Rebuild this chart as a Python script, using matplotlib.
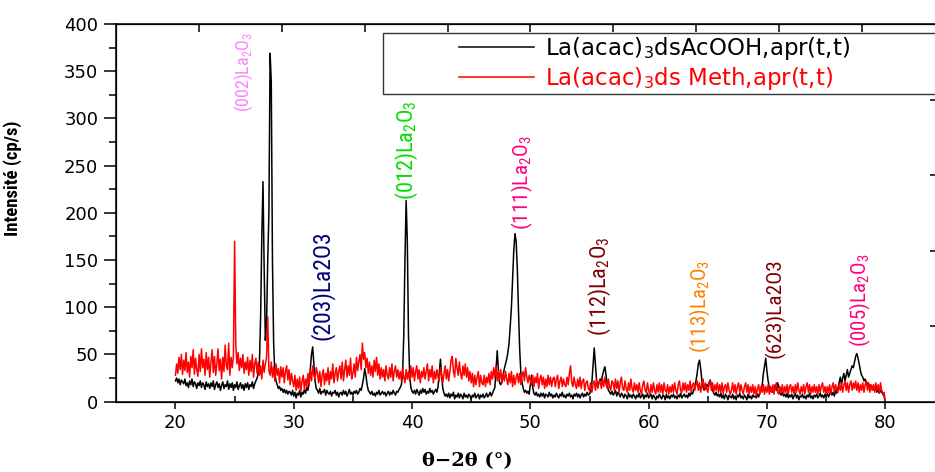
import os
import numpy as np
import matplotlib
matplotlib.use("Agg")
import matplotlib.pyplot as plt
from matplotlib import font_manager
from matplotlib.font_manager import FontProperties
from matplotlib.legend_handler import HandlerLine2D

# 2-theta scan grid (0.1 deg step, 20 -> 80)
two_theta = np.round(np.arange(20.0, 80.05, 0.1), 1)

# La(acac)3 in AcOOH, intensities (cp/s), one row per degree
acooh = [
    22, 25, 20, 24, 18, 23, 21, 19, 24, 17,
    20, 15, 22, 18, 24, 16, 21, 19, 14, 20,
    17, 22, 15, 20, 18, 13, 21, 16, 19, 14,
    20, 16, 22, 13, 18, 21, 15, 19, 12, 17,
    21, 14, 18, 16, 22, 13, 19, 15, 20, 12,
    18, 15, 21, 13, 17, 20, 14, 18, 12, 19,
    15, 20, 13, 18, 16, 21, 14, 19, 22, 25,
    30, 42, 90, 175, 233, 140, 65, 82, 150, 200,
    369, 339, 150, 62, 30, 22, 18, 14, 16, 12,
    14, 10, 13, 9, 12, 8, 11, 10, 7, 12,
    6, 10, 4, 9, 7, 12, 5, 10, 8, 13,
    9, 15, 12, 20, 35, 50, 58, 40, 22, 14,
    12, 9, 14, 8, 11, 10, 13, 7, 12, 9,
    8, 11, 6, 10, 9, 12, 7, 10, 5, 9,
    10, 7, 12, 8, 11, 6, 9, 13, 8, 10,
    7, 11, 9, 12, 8, 10, 14, 12, 18, 25,
    35, 28, 18, 12, 10, 8, 11, 7, 9, 6,
    10, 8, 12, 7, 9, 11, 8, 10, 6, 9,
    11, 7, 10, 8, 12, 9, 7, 11, 10, 13,
    15, 18, 30, 70, 150, 213, 170, 70, 28, 15,
    11, 9, 12, 8, 13, 10, 7, 12, 9, 14,
    10, 13, 8, 11, 9, 14, 10, 12, 8, 11,
    13, 10, 16, 30, 45, 28, 14, 9, 6, 8,
    5, 9, 4, 8, 6, 10, 3, 7, 5, 9,
    4, 8, 6, 3, 9, 5, 7, 4, 8, 6,
    3, 7, 5, 9, 4, 6, 8, 3, 7, 5,
    8, 4, 6, 9, 5, 7, 10, 6, 9, 12,
    15, 35, 54, 32, 20, 18, 22, 28, 35, 40,
    45, 52, 62, 80, 100, 130, 160, 178, 170, 140,
    95, 55, 30, 20, 14, 10, 12, 9, 11, 8,
    18, 28, 15, 9, 7, 10, 6, 8, 5, 9,
    6, 9, 4, 8, 7, 5, 10, 6, 8, 4,
    7, 5, 9, 6, 4, 8, 6, 10, 5, 7,
    4, 8, 6, 9, 5, 7, 3, 8, 6, 9,
    5, 8, 4, 7, 9, 5, 8, 6, 10, 7,
    8, 12, 20, 38, 57, 40, 22, 18, 20, 24,
    22, 28, 33, 37, 28, 18, 12, 10, 8, 11,
    7, 9, 12, 6, 10, 8, 5, 9, 7, 4,
    8, 6, 3, 9, 5, 7, 4, 8, 6, 3,
    7, 5, 9, 4, 6, 8, 3, 7, 5, 9,
    4, 6, 8, 3, 7, 5, 2, 6, 4, 8,
    5, 3, 7, 6, 2, 8, 4, 6, 3, 7,
    5, 8, 4, 6, 3, 7, 5, 9, 4, 6,
    8, 5, 7, 4, 9, 6, 10, 8, 12, 15,
    22, 30, 40, 44, 35, 22, 15, 12, 14, 18,
    16, 20, 23, 18, 12, 9, 7, 10, 6, 8,
    5, 9, 4, 7, 3, 8, 6, 2, 7, 5,
    4, 8, 3, 6, 2, 7, 5, 9, 4, 6,
    3, 7, 5, 2, 8, 4, 6, 3, 7, 5,
    6, 4, 8, 5, 10, 12, 18, 30, 38, 46,
    32, 22, 15, 11, 14, 10, 13, 18, 12, 20,
    16, 9, 7, 10, 6, 8, 5, 9, 4, 7,
    5, 8, 3, 6, 9, 4, 7, 2, 6, 5,
    8, 4, 6, 3, 7, 5, 9, 4, 6, 3,
    7, 5, 8, 4, 6, 9, 5, 7, 4, 8,
    6, 9, 5, 8, 11, 7, 10, 6, 12, 9,
    14, 20, 26, 18, 25, 30, 22, 28, 34, 26,
    30, 34, 38, 36, 42, 48, 51, 46, 40, 33,
    28, 26, 22, 24, 18, 20, 16, 18, 14, 15,
    14, 12, 15, 10, 13, 9, 12, 10, 8, 6,
    0,
]

# La(acac)3 in methanol, intensities (cp/s)
meth = [
    28, 40, 30, 47, 34, 50, 29, 44, 33, 52,
    31, 42, 26, 48, 36, 55, 29, 46, 34, 27,
    50, 32, 56, 36, 45, 28, 52, 34, 47, 26,
    42, 55, 31, 48, 28, 40, 56, 33, 45, 24,
    47, 32, 60, 38, 34, 62, 28, 47, 36, 48,
    170, 60, 40, 52, 33, 46, 36, 50, 30, 42,
    34, 47, 28, 44, 32, 50, 26, 40, 46, 30,
    42, 28, 38, 24, 44, 31, 40, 47, 90, 33,
    28, 42, 26, 37, 22, 40, 28, 35, 20, 37,
    26, 36, 20, 32, 38, 23, 34, 18, 30, 22,
    16, 28, 12, 24, 14, 26, 11, 22, 28, 13,
    24, 16, 30, 18, 34, 22, 38, 28, 24, 36,
    30, 20, 32, 16, 28, 34, 18, 30, 22, 36,
    18, 32, 24, 40, 20, 30, 36, 22, 32, 38,
    24, 42, 22, 34, 44, 26, 38, 28, 46, 24,
    30, 40, 26, 47, 33, 42, 50, 34, 62, 45,
    52, 36, 46, 30, 42, 28, 38, 26, 44, 32,
    47, 28, 40, 24, 36, 26, 34, 22, 38, 28,
    24, 36, 26, 40, 22, 32, 38, 26, 34, 24,
    32, 22, 36, 26, 20, 34, 24, 32, 22, 38,
    26, 36, 22, 32, 38, 24, 34, 20, 32, 26,
    36, 24, 32, 40, 22, 34, 26, 38, 20, 32,
    24, 34, 26, 22, 36, 28, 20, 30, 38, 24,
    34, 22, 32, 44, 48, 32, 26, 46, 36, 28,
    42, 30, 24, 38, 28, 40, 26, 36, 22, 32,
    20, 30, 16, 28, 18, 26, 32, 16, 28, 20,
    18, 28, 16, 26, 20, 30, 18, 32, 24, 36,
    26, 38, 22, 32, 24, 34, 20, 30, 22, 32,
    24, 18, 30, 20, 32, 16, 28, 18, 26, 30,
    20, 30, 18, 28, 32, 22, 36, 26, 20, 28,
    22, 18, 28, 16, 26, 20, 30, 14, 24, 28,
    18, 26, 14, 24, 16, 28, 18, 26, 16, 24,
    26, 16, 24, 28, 14, 22, 26, 16, 24, 18,
    16, 26, 18, 30, 38, 20, 16, 26, 18, 14,
    24, 16, 26, 14, 22, 24, 12, 20, 22, 14,
    12, 20, 10, 18, 22, 12, 24, 14, 20, 22,
    14, 24, 16, 26, 18, 14, 24, 16, 12, 22,
    20, 12, 24, 14, 22, 10, 20, 26, 14, 12,
    22, 14, 10, 20, 12, 24, 14, 10, 20, 12,
    18, 10, 20, 12, 8, 18, 22, 12, 10, 20,
    12, 8, 18, 10, 20, 12, 8, 18, 10, 20,
    10, 18, 8, 20, 12, 10, 18, 8, 16, 10,
    18, 10, 20, 12, 8, 18, 22, 12, 10, 20,
    12, 20, 10, 18, 12, 22, 10, 18, 20, 12,
    18, 22, 12, 20, 10, 18, 24, 12, 20, 14,
    10, 18, 22, 12, 20, 10, 18, 12, 20, 10,
    18, 10, 20, 8, 16, 18, 10, 20, 12, 8,
    12, 20, 10, 18, 8, 16, 20, 10, 18, 12,
    8, 16, 20, 10, 18, 8, 16, 10, 18, 8,
    16, 6, 14, 18, 8, 16, 10, 18, 8, 16,
    10, 18, 8, 16, 10, 18, 8, 16, 20, 10,
    8, 16, 10, 18, 8, 16, 10, 18, 8, 16,
    18, 10, 16, 8, 18, 10, 20, 12, 8, 16,
    10, 18, 8, 16, 20, 10, 18, 8, 16, 10,
    18, 10, 16, 8, 18, 10, 16, 20, 10, 16,
    8, 16, 10, 18, 8, 16, 20, 10, 18, 12,
    10, 18, 12, 20, 10, 18, 22, 12, 20, 10,
    18, 22, 12, 20, 14, 22, 12, 20, 10, 18,
    12, 20, 10, 18, 22, 12, 20, 10, 18, 12,
    18, 10, 20, 12, 18, 10, 20, 12, 8, 10,
    0,
]

# peak assignments: label, 2theta, height of label base, colour, length (px)
peak_labels = [r"(002)La$_2$O$_3$", r"(203)La2O3", r"(012)La$_2$O$_3$",
               r"(111)La$_2$O$_3$", r"(112)La$_2$O$_3$", r"(113)La$_2$O$_3$",
               r"(623)La2O3", r"(005)La$_2$O$_3$"]
peak_x = [25.8, 32.4, 39.6, 49.3, 55.9, 64.4, 70.7, 77.9]
peak_y = [307, 65, 214, 182, 70, 52, 46, 58]
peak_colors = ["#FF80FF", "#000080", "#00E000", "#FF0080",
               "#800000", "#FF8000", "#800000", "#FF0080"]
peak_len = [80, 110, 100, 95, 100, 93, 100, 94]

series_labels = [r"La(acac)$_3$dsAcOOH,apr(t,t)", r"La(acac)$_3$ds Meth,apr(t,t)"]


def condensed_font(bold):
    # look for an installed narrow/condensed sans face
    best, best_rank = None, 99
    for f in font_manager.fontManager.ttflist:
        tag = (f.name + " " + os.path.basename(f.fname)).lower()
        if not ("narrow" in tag or "condensed" in tag or str(f.stretch) in ("condensed", "semi-condensed")):
            continue
        if f.style != "normal" or "mono" in tag or "serif" in tag or "extra" in tag or "ultra" in tag:
            continue
        w = f.weight if isinstance(f.weight, int) else font_manager.weight_dict.get(f.weight, 400)
        if bold and w < 600 or not bold and not (350 <= w < 600):
            continue
        rank = 0 if "liberation" in tag else (1 if "arimo" in tag or "roboto" in tag else 2)
        if rank < best_rank:
            best, best_rank = f, rank
    if best is not None:
        return FontProperties(fname=best.fname)
    return FontProperties(family="Liberation Sans", weight="bold" if bold else "normal")


plt.rcParams["mathtext.default"] = "regular"
plt.rcParams["font.family"] = "DejaVu Sans"

W, H = 935, 472
fig = plt.figure(figsize=(W / 100, H / 100), dpi=100)
x0, x1, ytop, ybot = 116.3, 944.4, 24, 401.7
ax = fig.add_axes([x0 / W, 1 - ybot / H, (x1 - x0) / W, (ybot - ytop) / H])

ax.plot(two_theta, acooh, color="black", lw=1.1, label=series_labels[0])
ax.plot(two_theta, meth, color="red", lw=1.1, label=series_labels[1])

ax.set_xlim(15, 85)
ax.set_ylim(0, 400)
ax.set_xticks([20, 30, 40, 50, 60, 70, 80])
ax.set_xticks([25, 35, 45, 55, 65, 75], minor=True)
ax.set_yticks(np.arange(0, 401, 50))
ax.set_yticks(np.arange(25, 400, 50), minor=True)
ax.tick_params(axis="x", which="major", direction="out", length=5, width=1.1,
               labelsize=13, pad=4, top=False)
ax.tick_params(axis="x", which="minor", direction="in", length=4, width=1.1, top=False)
ax.tick_params(axis="y", which="major", direction="out", length=9, width=1.1,
               labelsize=13, pad=4, right=False)
ax.tick_params(axis="y", which="minor", direction="out", length=5, width=1.1, right=False)
for s in ax.spines.values():
    s.set_linewidth(1.1)

# top and right frame ticks
top = ax.twiny()
top.set_xlim(0, 10)
top.set_xticks(range(1, 10))
top.tick_params(axis="x", direction="in", length=6, width=1.1, labeltop=False)
right = ax.twinx()
right.set_ylim(0, 400)
right.set_yticks([80, 160, 240, 320])
right.tick_params(axis="y", direction="in", length=10, width=1.1, labelright=False)

fig.canvas.draw()
renderer = fig.canvas.get_renderer()

ylab_font = condensed_font(True)
ylab_font.set_size(14)
ylab = ax.set_ylabel("Intensité (cp/s)", fontproperties=ylab_font)
ax.yaxis.set_label_coords(-0.114, 0.592)
ylab_len = ylab.get_window_extent(renderer).height
ylab_font.set_size(14 * 116 / ylab_len)
ylab.set_fontproperties(ylab_font)

ax.set_xlabel("θ−2θ (°)", family="DejaVu Serif", fontweight="bold", fontsize=14)
ax.xaxis.set_label_coords(0.424, -0.133)

ann_font = condensed_font(False)
for lab, px, py, c, n in zip(peak_labels, peak_x, peak_y, peak_colors, peak_len):
    fp = ann_font.copy()
    fp.set_size(15)
    t = ax.text(px, py, lab, rotation=90, ha="center", va="bottom", color=c,
                fontproperties=fp)
    length = t.get_window_extent(renderer).height
    fp.set_size(15 * n / length)
    t.set_fontproperties(fp)


class InsetLine(HandlerLine2D):
    # draw the sample line only over the right half of the handle box
    def get_xdata(self, legend, xdescent, ydescent, width, height, fontsize):
        xd = np.array([-xdescent + 0.5 * width, -xdescent + width])
        return xd, xd


leg = ax.legend(loc="upper left", bbox_to_anchor=(383 / W, 1 - 93 / H, 580 / W, 60 / H),
                bbox_transform=fig.transFigure, mode="expand", borderaxespad=0,
                fontsize=16.5, handlelength=6.5, handletextpad=0.5, borderpad=0.08,
                labelspacing=0.15, labelcolor="linecolor", fancybox=False,
                framealpha=1, edgecolor="#333333",
                handler_map={matplotlib.lines.Line2D: InsetLine()})
leg.get_frame().set_linewidth(1.0)
leg.set_zorder(5)

fig.savefig("out.png", dpi=100)
